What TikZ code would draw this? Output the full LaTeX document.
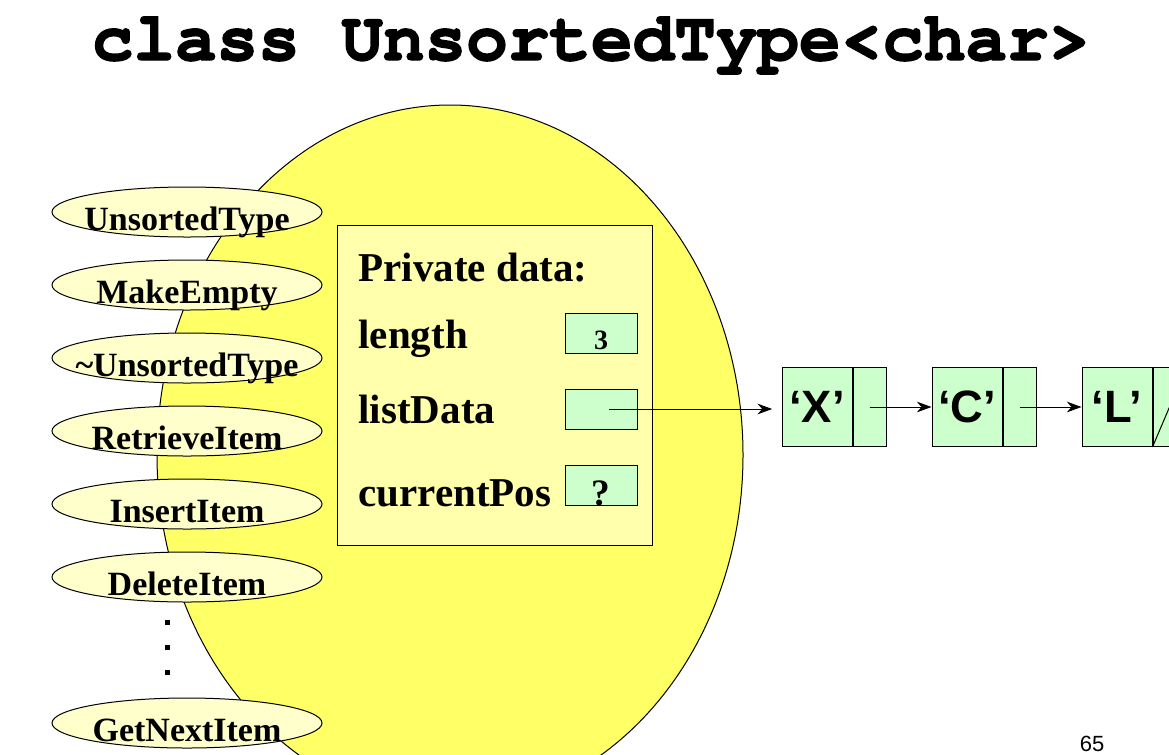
\documentclass[tikz,border=0pt]{standalone}
\usepackage{fontspec}
\setmainfont{Liberation Serif}
\setsansfont{Liberation Sans}
\newfontfamily\courierbold{texgyrecursor-bold.otf}[FakeBold=2]
\usetikzlibrary{positioning,shapes.geometric,arrows.meta}

\definecolor{ovalyellow}{RGB}{255,255,102}
\definecolor{methodfill}{RGB}{255,255,204}
\definecolor{privfill}{RGB}{255,255,172}
\definecolor{nodegreen}{RGB}{204,255,204}

\newcommand{\mlabel}[1]{\smash{\makebox[0pt]{\raisebox{-13.5pt}{#1}}}}

\tikzset{every picture/.style={line width=0.75pt}}
\tikzset{
  method/.style={ellipse, draw, fill=methodfill, minimum width=202.5pt, minimum height=37.5pt, inner sep=0pt, font=\bfseries\fontsize{25.5}{25.5}\selectfont},
  privtext/.style={anchor=base west, inner sep=0pt, font=\bfseries\fontsize{30.75}{30.75}\selectfont},
  field/.style={draw, fill=nodegreen, minimum width=54pt, minimum height=30pt, inner sep=0pt, text depth=0pt},
  info/.style={draw, fill=nodegreen, minimum width=52.5pt, minimum height=59.25pt, inner sep=0pt, font=\sffamily\bfseries\fontsize{34}{34}\selectfont},
  link/.style={draw, fill=nodegreen, minimum width=24.75pt, minimum height=59.25pt, inner sep=0pt},
  ptr/.style={-{Stealth[length=11pt,width=8pt,inset=3.5pt]}}
}

\begin{document}
\begin{tikzpicture}[x=0.75pt,y=0.75pt,yscale=-1,xscale=1]
\useasboundingbox (0,0) rectangle (1169,754);
\clip (0,0) rectangle (1169,754);

% Text Node
\node [anchor=base, inner sep=0pt, font=\courierbold\fontsize{52}{52}\selectfont] (title) at (591,60) {class UnsortedType<char>};

%Shape: Ellipse
\draw [fill=ovalyellow] (450,455) ellipse (293 and 350);

%Shape: Rectangle
\node [draw, fill=privfill, minimum width=236.25pt, minimum height=240pt, inner sep=0pt] (priv) at (494.5,385) {};

% Text Node
\node [privtext] (privhead) at (358,281) {Private data:};
\node [privtext] (lenlbl) at (358,348) {length};
\node [privtext] (datalbl) at (358,423) {listData};
\node [privtext] (poslbl) at (358,506) {currentPos};

%Shape: Rectangle
\node [field, text height=24pt, font=\bfseries\fontsize{21}{21}\selectfont] (lenbox) at (601,333) {3};
\node [field] (databox) at (601,409) {};
\node [field, text height=30pt, font=\bfseries\fontsize{28}{28}\selectfont] (posbox) at (601,485) {?};

%Shape: Ellipse
\node [method] (mctor) at (187,212) {\mlabel{UnsortedType}};
\node [method] (mempty) at (187,285) {\mlabel{MakeEmpty}};
\node [method] (mdtor) at (187,358) {\mlabel{\char`\~UnsortedType}};
\node [method] (mretrieve) at (187,431) {\mlabel{RetrieveItem}};
\node [method] (minsert) at (187,504) {\mlabel{InsertItem}};
\node [method] (mdelete) at (187,577) {\mlabel{DeleteItem}};
\node [method] (mnext) at (187,723) {\mlabel{GetNextItem}};

%Shape: Square
\fill (164.5,619.5) rectangle (169.5,624.5);
\fill (164.5,644.5) rectangle (169.5,649.5);
\fill (164.5,669.5) rectangle (169.5,674.5);

%Shape: Rectangle
\node [info] (nx) at (817,407) {‘X’};
\node [link, right=0pt of nx] (nxlink) {};
\node [info, right=33.75pt of nxlink] (nc) {‘C’};
\node [link, right=0pt of nc] (nclink) {};
\node [info, right=33.75pt of nclink] (nl) {‘L’};
\node [link, right=0pt of nl] (nllink) {};

%Straight Lines
\draw (nllink.south west) -- (nllink.north east);
\draw [ptr, shorten >=7pt] ([xshift=6pt]databox.center) -- (databox.center -| nx.west);
\draw [ptr] (nxlink.center) -- (nc.west);
\draw [ptr] (nclink.center) -- (nl.west);

% Text Node
\node [anchor=base, inner sep=0pt, font=\sffamily\fontsize{16.5}{16.5}\selectfont] (pageno) at (1092,751) {65};

\end{tikzpicture}
\end{document}
